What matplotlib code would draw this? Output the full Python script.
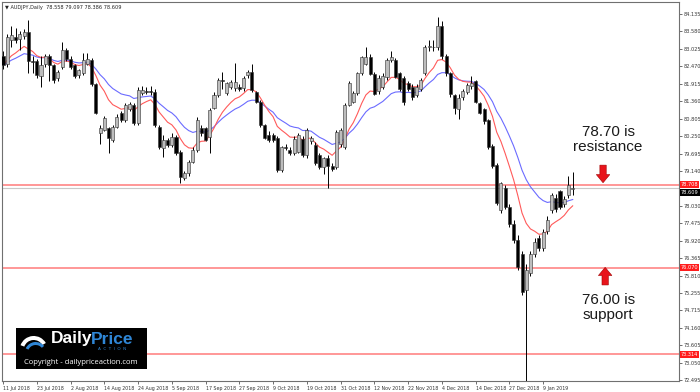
"""AUDJPY daily candles with resistance / support levels (DailyPriceAction style)."""
import matplotlib

matplotlib.use("Agg")
import matplotlib.pyplot as plt
import numpy as np
import pandas as pd
from matplotlib.patches import FancyArrow, Wedge

TITLE = "AUDJPY,Daily  78.558 79.097 78.386 78.609"

# one date label every 8 bars, first bar = 11 Jul 2018
LABEL_EVERY = 8
date_labels = ["11 Jul 2018", "23 Jul 2018", "2 Aug 2018", "14 Aug 2018", "24 Aug 2018",
               "5 Sep 2018", "17 Sep 2018", "27 Sep 2018", "9 Oct 2018", "19 Oct 2018",
               "31 Oct 2018", "12 Nov 2018", "22 Nov 2018", "4 Dec 2018", "14 Dec 2018",
               "27 Dec 2018", "9 Jan 2019"]

opens = [82.80, 82.55, 83.30, 83.40, 83.35, 83.45, 83.55, 82.65, 82.65, 82.15,
         82.55, 82.80, 82.50, 82.10, 82.45, 83.00, 82.72, 82.50, 82.20, 82.25,
         82.55, 82.67, 81.90, 80.35, 80.45, 80.50, 80.13, 80.55, 80.98, 80.77,
         81.10, 81.24, 80.66, 81.61, 81.70, 81.70, 81.66, 80.55, 79.86, 80.13,
         79.97, 80.24, 79.76, 78.91, 79.07, 79.44, 79.81, 80.50, 80.50, 80.24,
         81.14, 81.56, 82.04, 81.62, 81.80, 81.78, 81.80, 81.78, 82.19, 82.29,
         81.66, 81.35, 80.60, 80.29, 80.29, 80.20, 79.17, 79.92, 79.80, 79.70,
         79.75, 80.17, 79.65, 80.10, 79.97, 79.65, 79.28, 79.55, 79.30, 79.27,
         80.00, 79.90, 81.24, 81.35, 81.62, 82.26, 82.56, 82.77, 82.24, 81.70,
         81.80, 82.13, 82.67, 82.67, 82.26, 82.10, 81.95, 81.80, 81.55, 81.75,
         82.26, 83.10, 83.10, 83.10, 83.75, 82.80, 82.25, 81.55, 81.10, 81.50,
         81.66, 81.85, 82.00, 81.30, 81.10, 80.75, 79.95, 79.32, 77.90, 78.60,
         78.00, 77.45, 76.95, 76.50, 75.35, 75.90, 76.50, 77.00, 76.70, 77.25,
         77.90, 78.30, 78.50, 78.10, 78.38, 78.558]
highs = [82.95, 83.50, 83.75, 83.70, 83.60, 83.65, 83.95, 82.80, 82.70, 82.80,
         82.85, 82.85, 82.55, 82.35, 83.25, 83.05, 82.80, 82.55, 82.40, 82.90,
         82.90, 82.75, 81.95, 80.60, 80.90, 80.55, 80.60, 80.95, 81.05, 81.30,
         81.35, 81.30, 81.80, 81.85, 81.80, 81.85, 81.75, 80.60, 80.30, 80.20,
         80.35, 80.30, 79.80, 79.15, 79.50, 79.90, 80.85, 80.60, 80.55, 81.15,
         81.65, 82.10, 82.30, 81.98, 82.05, 82.58, 81.90, 82.15, 82.35, 82.55,
         81.70, 81.40, 80.65, 80.40, 80.35, 80.25, 79.95, 80.00, 79.90, 80.25,
         80.35, 80.25, 80.50, 80.25, 80.05, 79.70, 79.60, 79.65, 79.40, 80.45,
         80.50, 81.30, 82.00, 81.70, 82.30, 82.80, 83.09, 82.85, 82.30, 82.20,
         82.25, 82.75, 82.95, 82.75, 82.30, 82.15, 82.00, 81.90, 81.90, 82.10,
         83.15, 83.30, 83.30, 84.05, 83.90, 82.85, 82.30, 81.60, 81.60, 81.75,
         81.95, 82.15, 82.05, 81.35, 81.15, 80.80, 80.00, 79.40, 78.80, 78.70,
         78.10, 77.60, 77.10, 76.60, 76.20, 76.60, 77.00, 77.10, 77.30, 77.70,
         78.45, 78.40, 78.55, 78.35, 79.00, 79.097]
lows = [82.40, 82.45, 83.10, 83.20, 83.00, 83.35, 82.25, 82.25, 82.10, 81.80,
        82.45, 82.00, 81.95, 82.00, 82.40, 82.65, 82.40, 82.10, 82.10, 82.20,
        82.50, 81.85, 80.95, 80.00, 80.40, 79.71, 80.05, 80.50, 80.70, 80.70,
        81.05, 80.60, 80.60, 81.55, 81.60, 81.55, 80.55, 79.85, 79.60, 79.90,
        79.90, 79.65, 78.75, 78.85, 79.00, 79.40, 79.75, 80.25, 80.10, 79.70,
        81.10, 81.50, 81.75, 81.55, 81.75, 81.70, 81.70, 81.70, 82.10, 81.65,
        81.30, 80.55, 80.15, 80.05, 80.05, 79.10, 79.10, 79.80, 79.65, 79.65,
        79.70, 79.60, 79.55, 80.00, 79.35, 79.20, 79.05, 78.60, 79.15, 79.20,
        79.90, 79.85, 81.20, 81.30, 81.55, 82.20, 82.50, 82.20, 81.55, 81.60,
        81.75, 82.05, 82.60, 82.10, 81.70, 81.25, 81.70, 81.40, 81.50, 81.70,
        82.20, 82.95, 82.95, 83.00, 82.70, 82.15, 81.50, 80.95, 80.80, 81.40,
        81.60, 81.75, 81.30, 80.95, 80.65, 79.85, 79.25, 78.05, 77.80, 77.95,
        77.35, 76.85, 76.00, 75.20, 72.35, 75.80, 76.40, 76.60, 76.60, 77.15,
        77.80, 77.85, 77.95, 78.00, 78.30, 78.386]
closes = [82.50, 83.40, 83.46, 83.30, 83.50, 83.55, 82.65, 82.60, 82.20, 82.50,
          82.80, 82.50, 82.05, 82.30, 83.00, 82.72, 82.46, 82.17, 82.36, 82.67,
          82.70, 81.90, 81.00, 80.50, 80.82, 80.18, 80.55, 80.87, 80.77, 81.24,
          81.27, 80.66, 81.72, 81.72, 81.66, 81.66, 80.61, 79.92, 80.13, 79.97,
          80.24, 79.71, 78.96, 79.07, 79.44, 79.81, 80.77, 80.35, 80.13, 81.08,
          81.56, 82.04, 82.02, 81.93, 81.97, 81.97, 81.76, 82.10, 82.29, 81.72,
          81.35, 80.60, 80.20, 80.13, 80.13, 79.17, 79.90, 79.88, 79.70, 80.17,
          80.30, 79.65, 80.45, 80.20, 79.39, 79.28, 79.55, 79.30, 79.20, 80.38,
          80.45, 81.24, 81.94, 81.62, 82.26, 82.77, 82.77, 82.24, 81.60, 82.10,
          82.15, 82.67, 82.77, 82.13, 81.75, 81.34, 81.76, 81.50, 81.82, 82.05,
          83.09, 83.12, 83.08, 83.75, 82.80, 82.25, 81.60, 81.15, 81.45, 81.70,
          81.88, 81.95, 81.35, 81.00, 80.72, 79.92, 79.30, 78.12, 78.75, 78.00,
          77.45, 76.95, 76.10, 75.30, 76.00, 76.50, 76.90, 76.70, 77.20, 77.60,
          78.38, 77.95, 78.00, 78.25, 78.70, 78.609]

price_ticks = [84.135, 83.580, 83.025, 82.470, 81.915, 81.360, 80.805, 80.250, 79.695,
               79.140, 78.030, 77.475, 76.920, 76.365, 75.810, 75.255, 74.715, 74.160,
               73.605, 73.050, 72.495]
levels = [78.708, 76.070, 73.314]
last_price = 78.609

fig = plt.figure(figsize=(7, 3.92), dpi=100)
ax = fig.add_axes([2 / 700, 11 / 392, 677 / 700, 379 / 392])

o, h, l, c = (np.array(v) for v in (opens, highs, lows, closes))
x = np.arange(len(c))
up = c >= o

# moving averages on close
ma_fast = pd.Series(c).ewm(span=10, adjust=False).mean()
ma_slow = pd.Series(c).ewm(span=20, adjust=False).mean()

for lv in levels:
    ax.axhline(lv, color="#ff7b7b", lw=1.1, zorder=1)
ax.axhline(last_price, color="#c8c8c8", lw=0.8, zorder=1)

ax.plot(x, ma_slow, color="#6b6bff", lw=0.8, zorder=2)
ax.plot(x, ma_fast, color="#ff5a5a", lw=0.8, zorder=2)

ax.vlines(x, l, h, color="black", lw=0.7, zorder=3)
body = np.maximum(np.abs(c - o), 0.02)
ax.bar(x, body, bottom=np.minimum(o, c), width=0.72,
       color=np.where(up, "#bdbdbd", "black"), edgecolor="#303030", lw=0.4, zorder=4)

ax.set_xlim(-0.24, 160.2)
ax.set_ylim(72.466, 84.517)

# price axis on the right
ax.yaxis.tick_right()
ax.set_yticks(price_ticks)
ax.set_yticklabels([f"{p:.3f}" for p in price_ticks])
ax.tick_params(axis="y", labelsize=3.6, length=2, width=0.5, pad=1.2, colors="#333333")

ax.set_xticks(np.arange(len(date_labels)) * LABEL_EVERY)
ax.set_xticklabels(date_labels, ha="left")
ax.tick_params(axis="x", labelsize=3.4, length=2.5, width=0.5, pad=1.2, colors="#333333")
for s in ax.spines.values():
    s.set_color("#707070")
    s.set_linewidth(0.8)

# level tags on the price axis
for val, txt, bg in [(78.708, "78.708", "#ff1c1c"), (last_price - 0.15, "78.609", "black"),
                     (76.070, "76.070", "#ff1c1c"), (73.314, "73.314", "#ff1c1c")]:
    ax.annotate(txt, xy=(1.0, val), xycoords=("axes fraction", "data"),
                xytext=(1.5, 0), textcoords="offset points", va="center", ha="left",
                fontsize=3.6, color="white",
                bbox=dict(boxstyle="square,pad=0.15", fc=bg, ec="none"), annotation_clip=False)

ax.text(0.004, 0.992, "\u25bc " + TITLE, transform=ax.transAxes, va="top", ha="left",
        fontsize=3.6, color="#222222")

# annotations
ax.text(143.4, 80.15, "78.70 is\nresistance", ha="center", va="center", fontsize=11,
        family="Liberation Sans", linespacing=1.15, color="#1a1a1a")
ax.text(143.4, 74.8, "76.00 is\nsupport", ha="center", va="center", fontsize=11,
        family="Liberation Sans", linespacing=1.15, color="#1a1a1a")
ax.add_patch(FancyArrow(142.2, 79.33, 0, -0.3, width=1.5, head_width=3.2, head_length=0.26,
                        length_includes_head=False, fc="#e8141b", ec="#a00000", lw=0.4, zorder=5))
ax.add_patch(FancyArrow(142.7, 75.52, 0, 0.3, width=1.5, head_width=3.2, head_length=0.26,
                        length_includes_head=False, fc="#e8141b", ec="#a00000", lw=0.4, zorder=5))

# logo block, in its own axes with pixel units (origin top-left)
logo = fig.add_axes([15.7 / 700, (392 - 369) / 392, 131 / 700, 41 / 392], zorder=10)
logo.set_xlim(0, 131)
logo.set_ylim(41, 0)
logo.set_facecolor("black")
logo.set_xticks([])
logo.set_yticks([])
for s in logo.spines.values():
    s.set_visible(False)
# swoosh mark
logo.add_patch(Wedge((18, 22), 14, 200, 330, width=4, fc="white", ec="none"))
logo.add_patch(Wedge((20, 25), 11, 205, 320, width=3, fc="#2f86d6", ec="none"))
logo.text(35, 11, "Daily", color="white", fontsize=12.5, fontweight="bold", va="center",
          ha="left", family="Liberation Sans")
logo.text(75, 11, "Price", color="#2f86d6", fontsize=12.5, fontweight="bold", va="center",
          ha="left", family="Liberation Sans")
logo.text(82, 21.5, "A  C  T  I  O  N", color="#2f86d6", fontsize=3, va="center", ha="left")
logo.text(65.5, 35, "Copyright - dailypriceaction.com", color="white", fontsize=5.5,
          va="center", ha="center", family="Open Sans")

fig.savefig("out.png", dpi=100)
